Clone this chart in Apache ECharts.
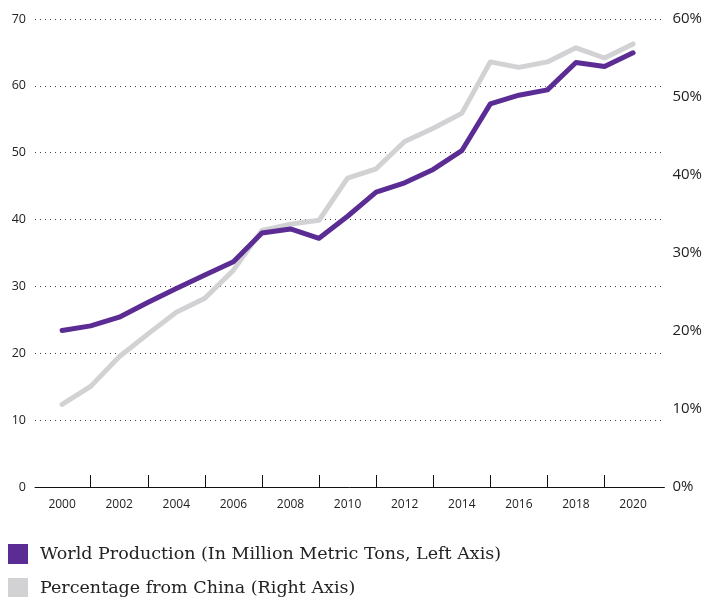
<!DOCTYPE html>
<html><head><meta charset="utf-8">
<script src="https://cdn.jsdelivr.net/npm/echarts@6/dist/echarts.min.js"></script>
<style>html,body{margin:0;padding:0;background:#fff}#c{width:705px;height:597px}</style>
</head><body><div id="c"></div>
<script>
const years = [2000,2001,2002,2003,2004,2005,2006,2007,2008,2009,2010,2011,2012,2013,2014,2015,2016,2017,2018,2019,2020];
const worldProduction = [23.4,24.1,25.4,27.6,29.7,31.7,33.7,38.0,38.6,37.2,40.5,44.1,45.5,47.5,50.3,57.3,58.6,59.4,63.5,62.9,64.95];
const pctChina = [10.6,12.9,16.7,19.6,22.4,24.2,27.8,32.9,33.7,34.2,39.6,40.8,44.3,46.0,47.9,54.5,53.8,54.5,56.3,55.0,56.8];
const labelYears = [2000,2002,2004,2006,2008,2010,2012,2014,2016,2018,2020];
const tickYears = [2001,2003,2005,2007,2009,2011,2013,2015,2017,2019];
const seriesNames = ['World Production (In Million Metric Tons, Left Axis)','Percentage from China (Right Axis)'];

const chart = echarts.init(document.getElementById('c'), null, {renderer:'canvas'});
const tickFont = '"Open Sans", sans-serif';
const legendText = {fontFamily:'"DejaVu Serif", serif',fontSize:17.5,color:'#222',padding:[0,0,0,7]};
chart.setOption({
  animation:false,
  backgroundColor:'#fff',
  grid:{left:35,right:40,top:19,bottom:110,containLabel:false},
  legend:[
    {left:8,top:544,padding:0,itemWidth:20,itemHeight:20,icon:'rect',data:[seriesNames[0]],textStyle:legendText},
    {left:8,top:578,padding:0,itemWidth:20,itemHeight:20,icon:'rect',data:[seriesNames[1]],textStyle:legendText}
  ],
  xAxis:{
    type:'value',min:1999.05,max:2021.1,
    axisLine:{show:true,lineStyle:{color:'#111',width:1}},
    axisTick:{show:true,inside:true,length:12,customValues:tickYears,lineStyle:{color:'#111'}},
    axisLabel:{customValues:labelYears,formatter:v=>String(v),fontFamily:tickFont,fontSize:12,color:'#222',margin:12},
    splitLine:{show:false}
  },
  yAxis:[
    {type:'value',min:0,max:70,interval:10,position:'left',
     axisLine:{show:false},axisTick:{show:false},
     axisLabel:{fontFamily:tickFont,fontSize:12.5,color:'#222',margin:9},
     splitLine:{show:true,lineStyle:{color:'#444',type:[1,4],width:1}}},
    {type:'value',min:0,max:60,interval:10,position:'right',
     axisLine:{show:false},axisTick:{show:false},
     axisLabel:{formatter:'{value}%',fontFamily:tickFont,fontSize:15,color:'#222',margin:8},
     splitLine:{show:false}}
  ],
  series:[
    {name:seriesNames[0],type:'line',yAxisIndex:0,z:3,showSymbol:false,
     data:years.map((y,i)=>[y,worldProduction[i]]),
     itemStyle:{color:'#5b2c93'},lineStyle:{color:'#5b2c93',width:5,cap:'round',join:'round'}},
    {name:seriesNames[1],type:'line',yAxisIndex:1,z:2,showSymbol:false,
     data:years.map((y,i)=>[y,pctChina[i]]),
     itemStyle:{color:'#d2d2d4'},lineStyle:{color:'#d2d2d4',width:5,cap:'round',join:'round'}}
  ]
});
</script></body></html>
